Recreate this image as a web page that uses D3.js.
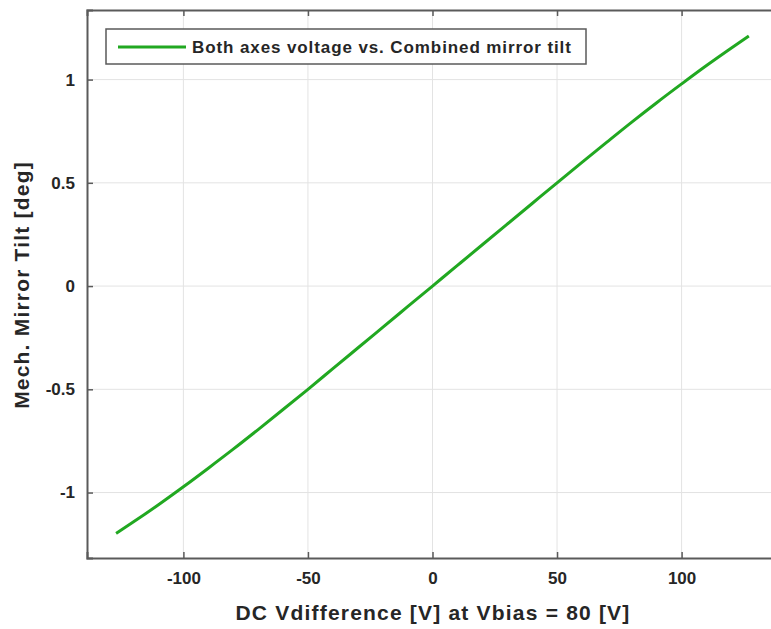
<!DOCTYPE html>
<html>
<head>
<meta charset="utf-8">
<script src="https://cdn.jsdelivr.net/npm/d3@7"></script>
<style>
  body { margin: 0; background: #fff; }
  text { font-family: 'Liberation Sans', Arial, sans-serif; font-weight: bold; fill: #262626; }
</style>
</head>
<body>
<svg width="771" height="629"></svg>
<script>
// voltage difference [V]
const vdiff = [-127, -120, -110, -100, -90, -80, -70, -60, -50, -40, -30, -20, -10, 0,
  10, 20, 30, 40, 50, 60, 70, 80, 90, 100, 110, 120, 127];
// combined mirror tilt [deg]
const tilt = [-1.198, -1.142, -1.059, -0.972, -0.882, -0.79, -0.695, -0.598, -0.5, -0.4, -0.3, -0.2, -0.1, 0,
  0.1, 0.2, 0.3, 0.4, 0.5, 0.599, 0.697, 0.794, 0.888, 0.979, 1.068, 1.153, 1.211];
const xTicks = [-100, -50, 0, 50, 100];
const yTicks = [-1, -0.5, 0, 0.5, 1];
const legendLabel = 'Both axes voltage vs. Combined mirror tilt';

const svg = d3.select('svg');
const plotL = 87, plotR = 778, plotT = 10, plotB = 558;

const x = d3.scaleLinear().domain([-138.7, 138.7]).range([plotL, plotR]);
const y = d3.scaleLinear().domain([-1.317, 1.337]).range([plotB, plotT]);

const g = svg.append('g');

// grid
g.selectAll('.gx').data(xTicks).enter().append('line')
  .attr('x1', d => x(d)).attr('x2', d => x(d))
  .attr('y1', plotT).attr('y2', plotB)
  .attr('stroke', '#e3e3e3').attr('stroke-width', 1);
g.selectAll('.gy').data(yTicks).enter().append('line')
  .attr('x1', plotL).attr('x2', plotR)
  .attr('y1', d => y(d)).attr('y2', d => y(d))
  .attr('stroke', '#e3e3e3').attr('stroke-width', 1);

// axes (ticks inward, matlab style), plain hyphen for minus
const axisColor = '#5a5a5a';
const xAxis = g.append('g')
  .attr('transform', `translate(0,${plotB})`)
  .call(d3.axisBottom(x).tickValues(xTicks).tickSize(-6).tickPadding(14).tickFormat(d => String(d)));
const yAxis = g.append('g')
  .attr('transform', `translate(${plotL},0)`)
  .call(d3.axisLeft(y).tickValues(yTicks).tickSize(-6).tickPadding(12).tickFormat(d => String(d)));
const xTop = g.append('g')
  .attr('transform', `translate(0,${plotT})`)
  .call(d3.axisTop(x).tickValues(xTicks).tickSize(-6).tickFormat(''));

[xAxis, yAxis, xTop].forEach(a => {
  a.select('.domain').attr('stroke', axisColor).attr('stroke-width', 2);
  a.selectAll('.tick line').attr('stroke', axisColor).attr('stroke-width', 1.5);
  a.selectAll('.tick text')
    .attr('font-size', '17px')
    .attr('font-family', "'Liberation Sans', Arial, sans-serif")
    .attr('font-weight', 'bold')
    .attr('fill', '#262626');
});

// the line
const line = d3.line()
  .x((d, i) => x(vdiff[i]))
  .y(d => y(d))
  .curve(d3.curveMonotoneX);
g.append('path')
  .datum(tilt)
  .attr('d', line)
  .attr('fill', 'none')
  .attr('stroke', '#21a821')
  .attr('stroke-width', 3);

// axis labels
svg.append('text')
  .attr('x', 433).attr('y', 620)
  .attr('text-anchor', 'middle')
  .attr('font-size', '21px')
  .attr('letter-spacing', '1.2px')
  .text('DC Vdifference [V] at Vbias = 80 [V]');

svg.append('text')
  .attr('transform', 'translate(29,285) rotate(-90)')
  .attr('text-anchor', 'middle')
  .attr('font-size', '21px')
  .attr('letter-spacing', '1.2px')
  .text('Mech. Mirror Tilt [deg]');

// legend
const lg = svg.append('g');
lg.append('rect')
  .attr('x', 106).attr('y', 29).attr('width', 480).attr('height', 35)
  .attr('fill', '#fff').attr('stroke', '#5a5a5a').attr('stroke-width', 1.5);
lg.append('line')
  .attr('x1', 118).attr('x2', 186).attr('y1', 47).attr('y2', 47)
  .attr('stroke', '#21a821').attr('stroke-width', 3);
lg.append('text')
  .attr('x', 192).attr('y', 53)
  .attr('font-size', '17px')
  .attr('letter-spacing', '0.9px')
  .text(legendLabel);
</script>
</body>
</html>
